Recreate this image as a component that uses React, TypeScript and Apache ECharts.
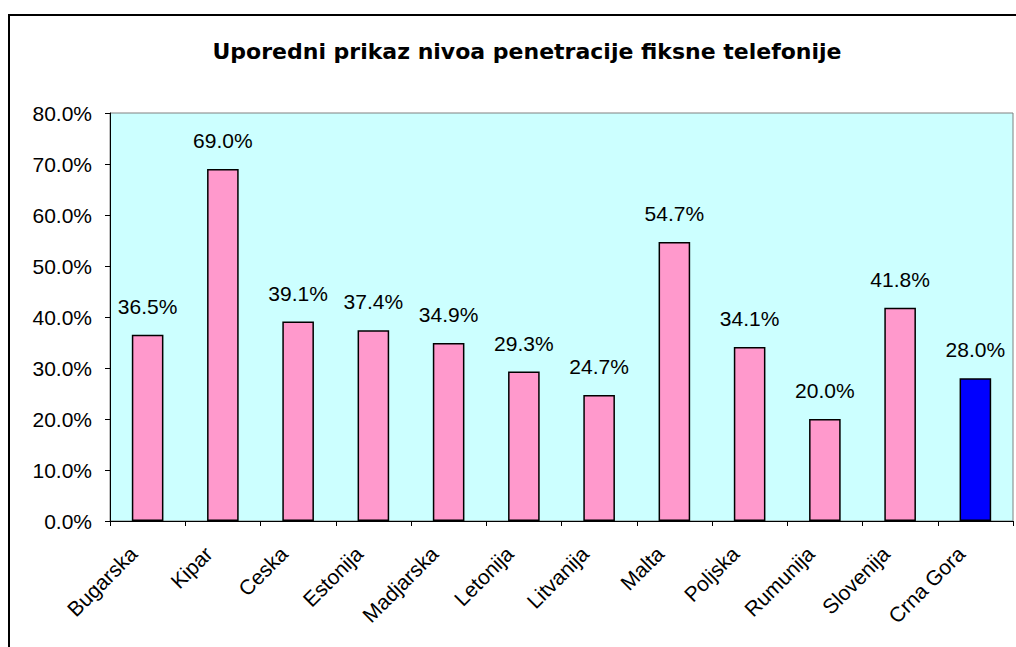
import React, { useEffect, useRef } from "react";
import * as echarts from "echarts";

const title = "Uporedni prikaz nivoa penetracije fiksne telefonije";
const categories = ["Bugarska", "Kipar", "Ceska", "Estonija", "Madjarska", "Letonija", "Litvanija", "Malta", "Poljska", "Rumunija", "Slovenija", "Crna Gora"];
const values = [36.5, 69.0, 39.1, 37.4, 34.9, 29.3, 24.7, 54.7, 34.1, 20.0, 41.8, 28.0];
const highlighted = "Crna Gora";

export default function App() {
  const ref = useRef<HTMLDivElement>(null);
  useEffect(() => {
    document.body.style.margin = "0";
    const chart = echarts.init(ref.current!, null, { renderer: "svg" });
    const font = "'Liberation Sans', Arial, sans-serif";
    chart.setOption({
      animation: false,
      backgroundColor: "#ffffff",
      textStyle: { fontFamily: font },
      title: {
        text: title,
        left: 522,
        top: 35,
        textAlign: "center",
        textStyle: { fontSize: 22, fontWeight: "bold", color: "#000", fontFamily: "'DejaVu Sans', sans-serif" },
      },
      graphic: [
        { type: "line", shape: { x1: 9, y1: 15, x2: 9, y2: 647 }, style: { stroke: "#000", lineWidth: 2 } },
        { type: "line", shape: { x1: 8, y1: 15, x2: 1016, y2: 15 }, style: { stroke: "#000", lineWidth: 2 } },
      ],
      grid: {
        left: 110,
        top: 113,
        right: 3,
        bottom: 126,
        show: true,
        backgroundColor: "#CCFFFF",
        borderColor: "#808080",
        borderWidth: 1,
      },
      xAxis: {
        type: "category",
        data: categories,
        axisLine: { lineStyle: { color: "#000", width: 1 } },
        axisTick: { show: true, length: 5, lineStyle: { color: "#000" } },
        axisLabel: {
          rotate: 45,
          interval: 0,
          fontSize: 21,
          color: "#000",
          margin: 15,
          padding: [0, 20, 0, 0],
          fontFamily: font,
        },
      },
      yAxis: {
        type: "value",
        min: 0,
        max: 80,
        interval: 10,
        splitLine: { show: false },
        axisLine: { show: true, lineStyle: { color: "#000", width: 1 } },
        axisTick: { show: true, length: 5, lineStyle: { color: "#000" } },
        axisLabel: {
          fontSize: 21,
          color: "#000",
          margin: 18,
          fontFamily: font,
          formatter: (v: number) => v.toFixed(1) + "%",
        },
      },
      series: [
        {
          type: "bar",
          barWidth: "42%",
          data: values.map((v, i) => ({
            value: v,
            itemStyle: { color: categories[i] === highlighted ? "#0000FF" : "#FF99CC" },
          })),
          itemStyle: { borderColor: "#000", borderWidth: 1.5 },
          label: {
            show: true,
            position: "top",
            distance: 18,
            fontSize: 21,
            color: "#000",
            fontFamily: font,
            formatter: (p: any) => p.value.toFixed(1) + "%",
          },
        },
      ],
    });
    return () => chart.dispose();
  }, []);
  return <div ref={ref} style={{ width: 1016, height: 647 }} />;
}
